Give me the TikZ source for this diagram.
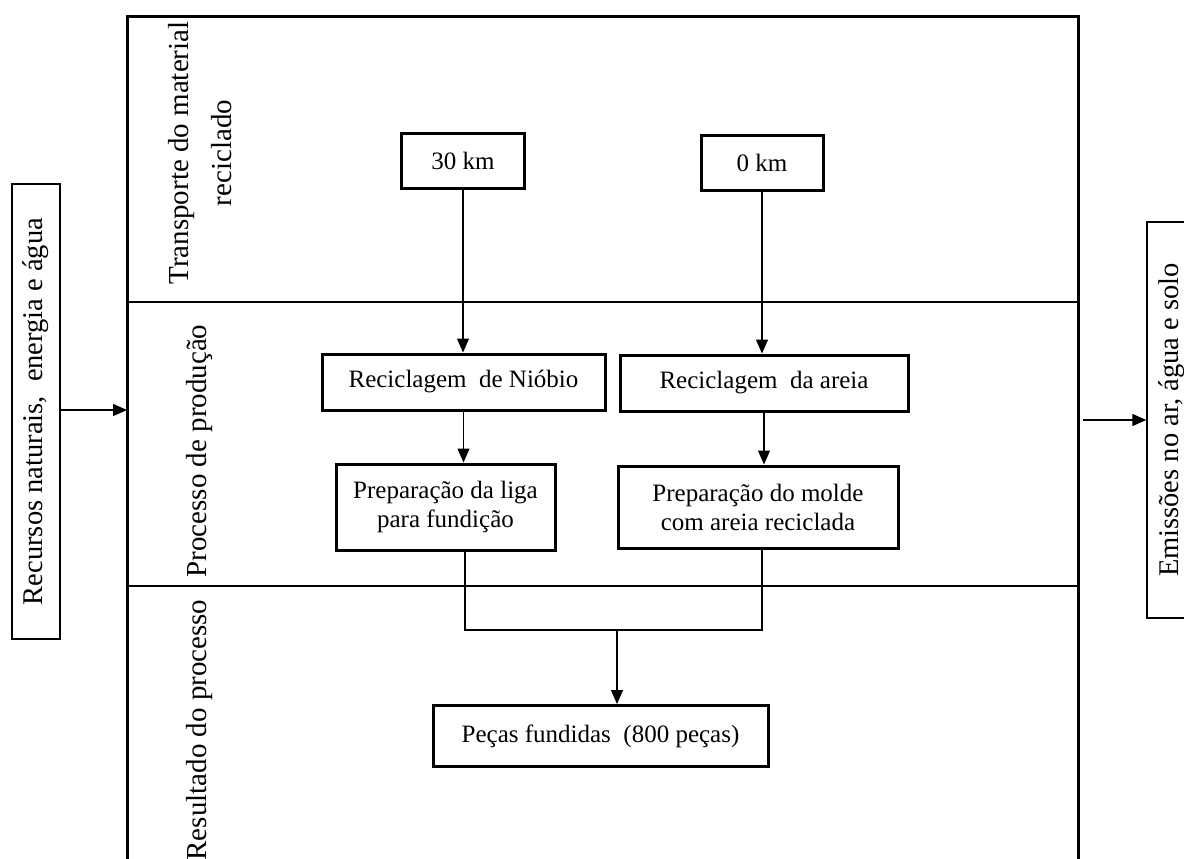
\documentclass[tikz,border=0pt]{standalone}
\usepackage{fontspec}
\setmainfont{Liberation Serif}
\usetikzlibrary{arrows.meta}
\begin{document}
\begin{tikzpicture}[x=1pt,y=-1pt,
  box/.style={draw,line width=3pt,inner sep=0pt,align=center,
    font=\fontsize{25}{29}\selectfont},
  side/.style={draw,line width=1.4pt,inner sep=0pt,align=center,rotate=90,
    font=\fontsize{28.5}{34}\selectfont},
  lane/.style={rotate=90,align=center,inner sep=0pt,
    font=\fontsize{29}{43}\selectfont},
  link/.style={line width=1.3pt},
  flow/.style={link,-{Triangle[length=14pt,width=12pt]}},
  ]
\useasboundingbox (0,0) rectangle (1184,859);
\clip (0,0) rectangle (1184,859);

% outer frame and lane dividers
\draw[line width=3pt] (127,900) -- (127,17) -- (1078,17) -- (1078,900);
\draw[line width=1.3pt] (127,302) -- (1078,302) (127,586) -- (1078,586);

% lane titles
\node[lane] (tr) at (200,153) {Transporte do material\\reciclado};
\node[lane] (pp) at (200,451) {Processo de produção};
\node[lane] (rp) at (200,730) {Resultado do processo};

% process boxes
\node[box,minimum width=123,minimum height=55] (km30) at (463,160.5) {30 km};
\node[box,minimum width=122,minimum height=55] (km0) at (762,163) {0 km};
\node[box,minimum width=283,minimum height=56] (rn) at (463.5,382) {Reciclagem~~de Nióbio};
\node[box,minimum width=288,minimum height=56] (ra) at (764,383) {Reciclagem~~da areia};
\node[box,minimum width=219,minimum height=86] (pl) at (445.5,507) {Preparação da liga\\para fundição};
\node[box,minimum width=280,minimum height=82] (pm) at (758,507) {Preparação do molde\\com areia reciclada};
\node[box,minimum width=335,minimum height=61] (pf) at (600.5,736) {Peças fundidas~~(800 peças)};

% inputs and outputs
\node[side,minimum width=455,minimum height=48] (rec) at (36,411.5) {Recursos naturais,~~energia e água};
\node[side,minimum width=396,minimum height=50] (emi) at (1172,420) {Emissões no ar, água e solo};

\coordinate (lin) at (127,410);
\coordinate (rout) at (1083,420);
\draw[flow] (rec.south |- lin) -- (lin);
\draw[flow] (rout) -- (rout -| emi.north);

% flows
\draw[flow] (km30.south) -- (km30.south |- rn.north);
\draw[flow] (km0.south) -- (km0.south |- ra.north);
\draw[flow] (rn.south) -- (rn.south |- pl.north);
\draw[flow] (ra.south) -- (ra.south |- pm.north);

\coordinate (jl) at (465,630);
\coordinate (jr) at (762,630);
\coordinate (jn) at (617,630);
\draw[link] (jl |- pl.south) -- (jl) -- (jr) -- (jr |- pm.south);
\draw[flow] (jn) -- (jn |- pf.north);
\end{tikzpicture}
\end{document}
